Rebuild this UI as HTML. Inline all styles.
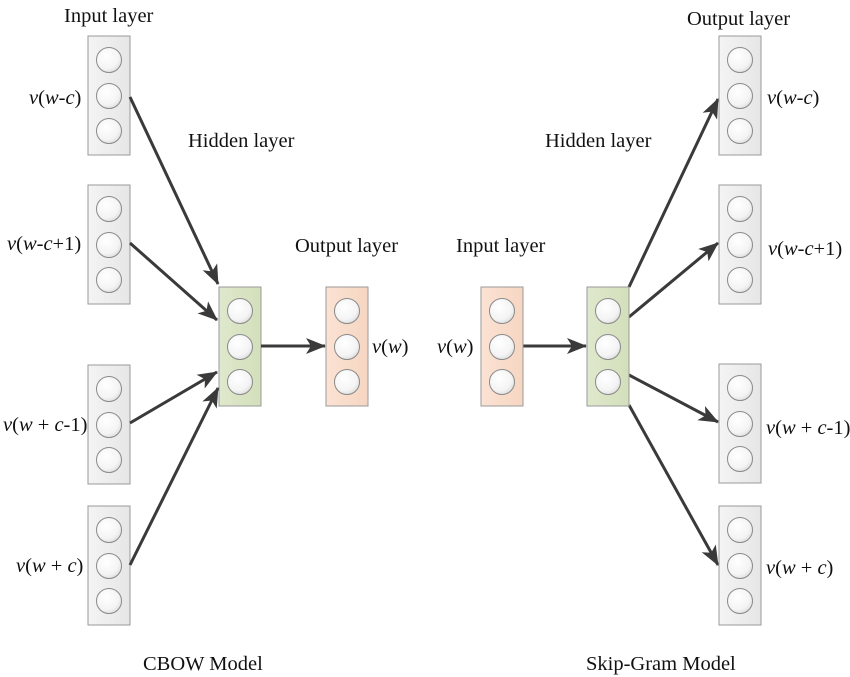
<!DOCTYPE html>
<html><head><meta charset="utf-8"><style>
html,body{margin:0;padding:0;background:#fff}
svg{display:block}
text{font-family:"Liberation Serif",serif;font-size:20.5px;fill:#111}
.v{font-style:italic}
</style></head><body>
<svg width="850" height="677" viewBox="0 0 850 677" xmlns="http://www.w3.org/2000/svg">
<defs>
<linearGradient id="gr" x1="0" x2="1"><stop offset="0" stop-color="#f4f4f4"/><stop offset="1" stop-color="#e6e6e6"/></linearGradient>
<linearGradient id="gg" x1="0" x2="1"><stop offset="0" stop-color="#dfe8cc"/><stop offset="1" stop-color="#d3dfbb"/></linearGradient>
<linearGradient id="go" x1="0" x2="1"><stop offset="0" stop-color="#fbe2d3"/><stop offset="1" stop-color="#f6d6c2"/></linearGradient>
<radialGradient id="gc" cx="0.4" cy="0.35" r="0.7"><stop offset="0" stop-color="#ffffff"/><stop offset="0.7" stop-color="#f4f4f4"/><stop offset="1" stop-color="#dcdcdc"/></radialGradient>
<marker id="a" markerWidth="20" markerHeight="16" refX="19" refY="8" orient="auto" markerUnits="userSpaceOnUse" viewBox="0 0 20 16"><path d="M0,0 L20,8 L0,16 L5,8 z" fill="#3a3a3a"/></marker>
<g id="col">
<rect x="0" y="0" width="42" height="119" stroke="#9a9a9a" stroke-width="1"/>
<circle cx="21" cy="24" r="12.5" fill="url(#gc)" stroke="#8a8a8a"/>
<circle cx="21" cy="60" r="12.5" fill="url(#gc)" stroke="#8a8a8a"/>
<circle cx="21" cy="95" r="12.5" fill="url(#gc)" stroke="#8a8a8a"/>
</g>
</defs>

<use href="#col" x="88" y="36" fill="url(#gr)"/>
<use href="#col" x="88" y="185" fill="url(#gr)"/>
<use href="#col" x="88" y="365" fill="url(#gr)"/>
<use href="#col" x="88" y="506" fill="url(#gr)"/>
<use href="#col" x="219" y="287" fill="url(#gg)"/>
<use href="#col" x="326" y="287" fill="url(#go)"/>

<g stroke="#3a3a3a" stroke-width="3" fill="none" marker-end="url(#a)">
<line x1="130" y1="97" x2="218" y2="284"/>
<line x1="130" y1="243" x2="217" y2="320"/>
<line x1="130" y1="423" x2="217" y2="372"/>
<line x1="130" y1="565" x2="218" y2="388"/>
<line x1="261" y1="346" x2="325" y2="346"/>
<line x1="523" y1="346" x2="586" y2="346"/>
<line x1="629" y1="287" x2="718" y2="99"/>
<line x1="629" y1="317" x2="718" y2="243"/>
<line x1="629" y1="375" x2="718" y2="422"/>
<line x1="629" y1="405" x2="718" y2="565"/>
</g>

<text x="64" y="22">Input layer</text>
<text x="188" y="147">Hidden layer</text>
<text x="295" y="252">Output layer</text>
<text x="29" y="104"><tspan class="v">v</tspan>(<tspan class="v">w-c</tspan>)</text>
<text x="7" y="250"><tspan class="v">v</tspan>(<tspan class="v">w-c</tspan>+1)</text>
<text x="3" y="431"><tspan class="v">v</tspan>(<tspan class="v">w</tspan> + <tspan class="v">c</tspan>-1)</text>
<text x="16" y="572"><tspan class="v">v</tspan>(<tspan class="v">w</tspan> + <tspan class="v">c</tspan>)</text>
<text x="372" y="353"><tspan class="v">v</tspan>(<tspan class="v">w</tspan>)</text>
<text x="143" y="670">CBOW Model</text>

<use href="#col" x="481" y="287" fill="url(#go)"/>
<use href="#col" x="587" y="287" fill="url(#gg)"/>
<use href="#col" x="719" y="36" fill="url(#gr)"/>
<use href="#col" x="719" y="185" fill="url(#gr)"/>
<use href="#col" x="719" y="364" fill="url(#gr)"/>
<use href="#col" x="719" y="506" fill="url(#gr)"/>

<text x="456" y="252">Input layer</text>
<text x="545" y="147">Hidden layer</text>
<text x="687" y="25">Output layer</text>
<text x="437" y="353"><tspan class="v">v</tspan>(<tspan class="v">w</tspan>)</text>
<text x="767" y="104"><tspan class="v">v</tspan>(<tspan class="v">w-c</tspan>)</text>
<text x="768" y="255"><tspan class="v">v</tspan>(<tspan class="v">w-c</tspan>+1)</text>
<text x="766" y="434"><tspan class="v">v</tspan>(<tspan class="v">w</tspan> + <tspan class="v">c</tspan>-1)</text>
<text x="766" y="574"><tspan class="v">v</tspan>(<tspan class="v">w</tspan> + <tspan class="v">c</tspan>)</text>
<text x="586" y="670">Skip-Gram Model</text>
</svg>
</body></html>
